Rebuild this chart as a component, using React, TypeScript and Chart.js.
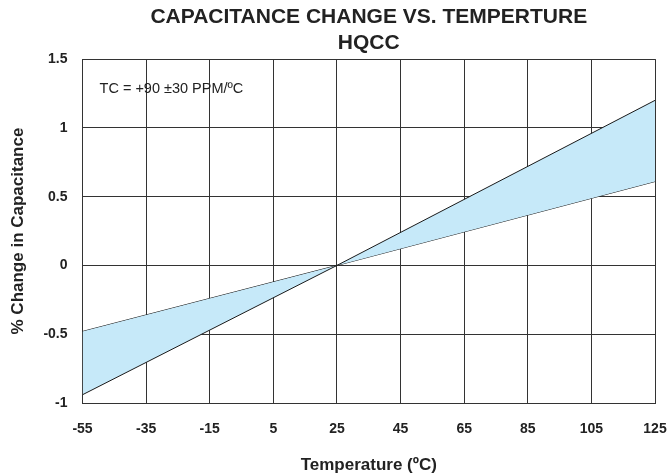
import React, { useEffect, useRef } from "react";
import { Chart, registerables } from "chart.js";

Chart.register(...registerables);

const xTicks = [-55, -35, -15, 5, 25, 45, 65, 85, 105, 125];
const yTicks = [-1, -0.5, 0, 0.5, 1, 1.5];
const temps = [-55, 25, 125];
const upperPct = [-0.94, 0, 1.2];
const lowerPct = [-0.48, 0, 0.61];
const titleLines = ["CAPACITANCE CHANGE VS. TEMPERTURE", "HQCC"];
const noteText = "TC = +90 ±30 PPM/ºC";

const FONT = "'Liberation Sans', Arial, Helvetica, sans-serif";

export default function App() {
  const ref = useRef<HTMLCanvasElement | null>(null);
  useEffect(() => {
    document.body.style.margin = "0";
    const notePlugin = {
      id: "note",
      afterDraw(chart: any) {
        const { ctx, chartArea } = chart;
        ctx.save();
        ctx.font = `14.5px ${FONT}`;
        ctx.fillStyle = "#222";
        ctx.textBaseline = "middle";
        ctx.textAlign = "left";
        ctx.fillText(noteText, chartArea.left + 17, chartArea.top + 30);
        ctx.restore();
      },
    };
    const chart = new Chart(ref.current!, {
      type: "line",
      data: {
        datasets: [
          {
            data: temps.map((t, i) => ({ x: t, y: upperPct[i] })),
            borderColor: "#1a1a1a",
            borderWidth: 1,
            pointRadius: 0,
            fill: "+1",
            backgroundColor: "rgb(198,233,249)",
            tension: 0,
          },
          {
            data: temps.map((t, i) => ({ x: t, y: lowerPct[i] })),
            borderColor: "#1a1a1a",
            borderWidth: 1,
            pointRadius: 0,
            fill: false,
            tension: 0,
          },
        ],
      },
      options: {
        animation: false,
        responsive: false,
        maintainAspectRatio: false,
        layout: { padding: { left: 0, right: 12, top: 0, bottom: 0 } },
        plugins: {
          legend: { display: false },
          tooltip: { enabled: false },
          title: {
            display: true,
            fullSize: false,
            text: titleLines,
            color: "#222",
            font: { family: FONT, size: 21, weight: "bold", lineHeight: 1.24 },
            padding: { top: 4.5, bottom: 2.5 },
          },
        },
        scales: {
          x: {
            type: "linear",
            min: -55,
            max: 125,
            z: 1,
            afterBuildTicks: (scale: any) => {
              scale.ticks = xTicks.map((v) => ({ value: v }));
            },
            grid: {
              color: "#333",
              lineWidth: 1,
              drawTicks: true,
              tickLength: 17.6,
              tickColor: "rgba(0,0,0,0)",
            },
            border: { color: "#333", width: 1 },
            ticks: {
              color: "#222",
              padding: 0,
              maxRotation: 0,
              autoSkip: false,
              font: { family: FONT, size: 14, weight: "bold" },
              callback: (v: any) => String(v),
            },
            title: {
              display: true,
              text: "Temperature (ºC)",
              color: "#222",
              font: { family: FONT, size: 17, weight: "bold", lineHeight: 1.2 },
              padding: { top: 17.6, bottom: 0.6 },
            },
          },
          y: {
            type: "linear",
            min: -1,
            max: 1.5,
            z: 1,
            afterBuildTicks: (scale: any) => {
              scale.ticks = yTicks.map((v) => ({ value: v }));
            },
            grid: { color: "#333", lineWidth: 1, drawTicks: false },
            border: { color: "#333", width: 1 },
            ticks: {
              color: "#222",
              padding: 15,
              autoSkip: false,
              font: { family: FONT, size: 14, weight: "bold" },
              callback: (v: any) => String(v),
            },
            title: {
              display: true,
              text: "% Change in Capacitance",
              color: "#222",
              font: { family: FONT, size: 17, weight: "bold", lineHeight: 1.2 },
              padding: { top: 8, bottom: 0 },
            },
          },
        },
      },
      plugins: [notePlugin],
    });
    return () => chart.destroy();
  }, []);
  return (
    <div style={{ width: 667, height: 476, background: "#fff" }}>
      <canvas ref={ref} width={667} height={476} style={{ display: "block" }} />
    </div>
  );
}
